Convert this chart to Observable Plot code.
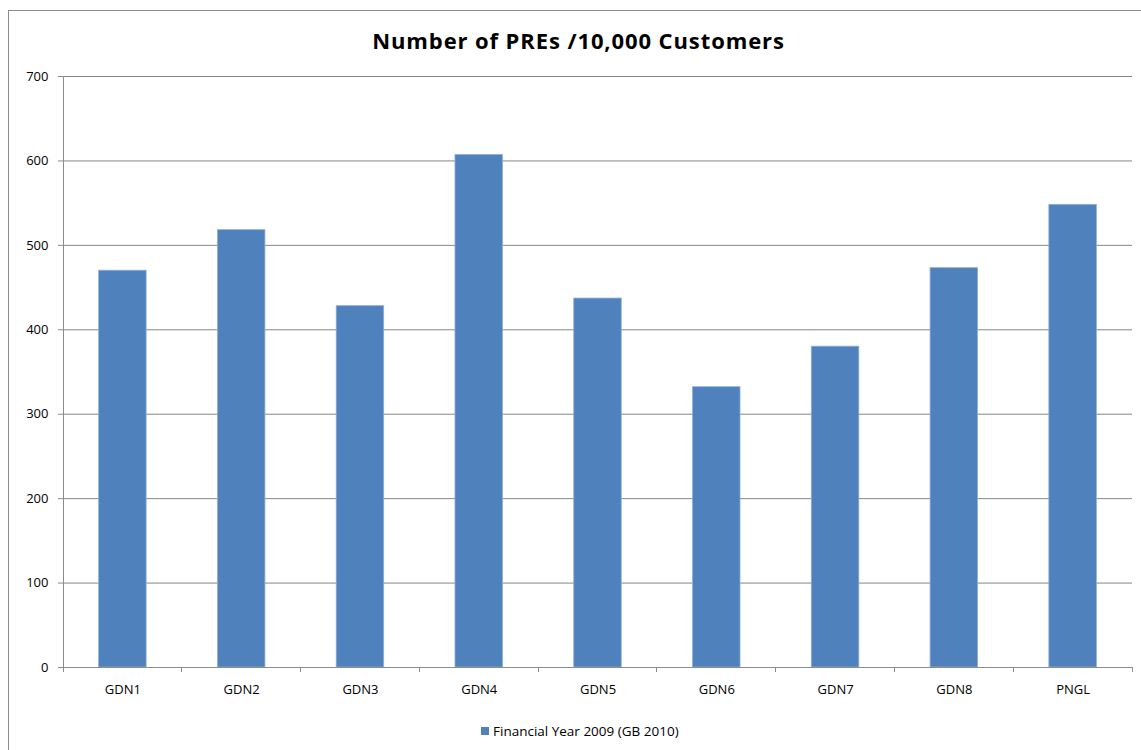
<!DOCTYPE html>
<html>
<head>
<meta charset="utf-8">
<script src="https://cdn.jsdelivr.net/npm/d3@7"></script>
<script src="https://cdn.jsdelivr.net/npm/@observablehq/plot@0.6"></script>
<style>
  html, body { margin: 0; padding: 0; background: #fff; width: 1141px; height: 750px; overflow: hidden; font-family: "Open Sans", sans-serif; }
  #frame { position: absolute; left: 8px; top: 10px; width: 1200px; height: 800px; border: 1px solid #8c8c8c; box-sizing: border-box; }
  #title { position: absolute; left: 0; top: 25px; width: 1157px; text-align: center; font-weight: bold; font-size: 22px; color: #000; letter-spacing: 0.9px; }
  #chart { position: absolute; left: 0; top: 60px; }
  #legend { position: absolute; left: 481px; top: 722px; font-size: 13.5px; color: #000; display: flex; align-items: center; }
  #legend .sw { width: 8px; height: 8px; background: #4F81BD; margin-right: 4px; }
</style>
</head>
<body>
<div id="frame"></div>
<div id="title">Number of PREs /10,000 Customers</div>
<div id="chart"></div>
<div id="legend"><span class="sw"></span><span id="legendLabel"></span></div>
<script>
const categories = ["GDN1", "GDN2", "GDN3", "GDN4", "GDN5", "GDN6", "GDN7", "GDN8", "PNGL"];
const values = [470, 518, 428, 607, 437, 332, 380, 473, 548];
const seriesName = "Financial Year 2009 (GB 2010)";
const yTicks = [0, 100, 200, 300, 400, 500, 600, 700];

const data = categories.map((c, i) => ({category: c, value: values[i]}));
document.getElementById("legendLabel").textContent = seriesName;

const chart = Plot.plot({
  width: 1141,
  height: 660,
  marginLeft: 63,
  marginRight: 9,
  marginTop: 16,
  marginBottom: 53,
  style: {fontFamily: "'Open Sans', sans-serif", fontSize: "13px", color: "#000", background: "transparent", overflow: "visible"},
  x: {domain: categories, paddingInner: 0.6, paddingOuter: 0.3, align: 0.5, round: false, label: null},
  y: {domain: [0, 700], label: null},
  marks: [
    Plot.ruleY(yTicks.filter(d => d > 0), {stroke: "#868686", strokeWidth: 1}),
    Plot.barY(data, {x: "category", y: "value", fill: "#4F81BD", stroke: "#8fb0d8", strokeWidth: 0.8}),
    Plot.ruleY([0], {stroke: "#8c8c8c"}),
    Plot.axisY({ticks: yTicks, tickSize: 5, tickPadding: 10, stroke: "#8c8c8c", tickFormat: d => String(d), fontSize: 13}),
    Plot.axisX({tickSize: 0, tickPadding: 17, fontSize: 13})
  ]
});
// axis line and category boundary ticks, positioned through the chart's scales
const xs = chart.scale("x"), ys = chart.scale("y");
const svg = d3.select(chart);
const y0 = ys.apply(0), yTop = ys.apply(700);
const g = svg.append("g").attr("stroke", "#8c8c8c").attr("shape-rendering", "crispEdges");
const half = (xs.step - xs.bandwidth) / 2;
const left0 = xs.apply(categories[0]) - half;
g.append("line").attr("x1", left0).attr("x2", left0).attr("y1", yTop).attr("y2", y0);
categories.forEach((c, i) => {
  const left = xs.apply(c) - half;
  g.append("line").attr("x1", left).attr("x2", left).attr("y1", y0).attr("y2", y0 + 5);
  if (i === categories.length - 1) {
    const right = xs.apply(c) + xs.bandwidth + half;
    g.append("line").attr("x1", right).attr("x2", right).attr("y1", y0).attr("y2", y0 + 5);
  }
});
document.getElementById("chart").appendChild(chart);
</script>
</body>
</html>
